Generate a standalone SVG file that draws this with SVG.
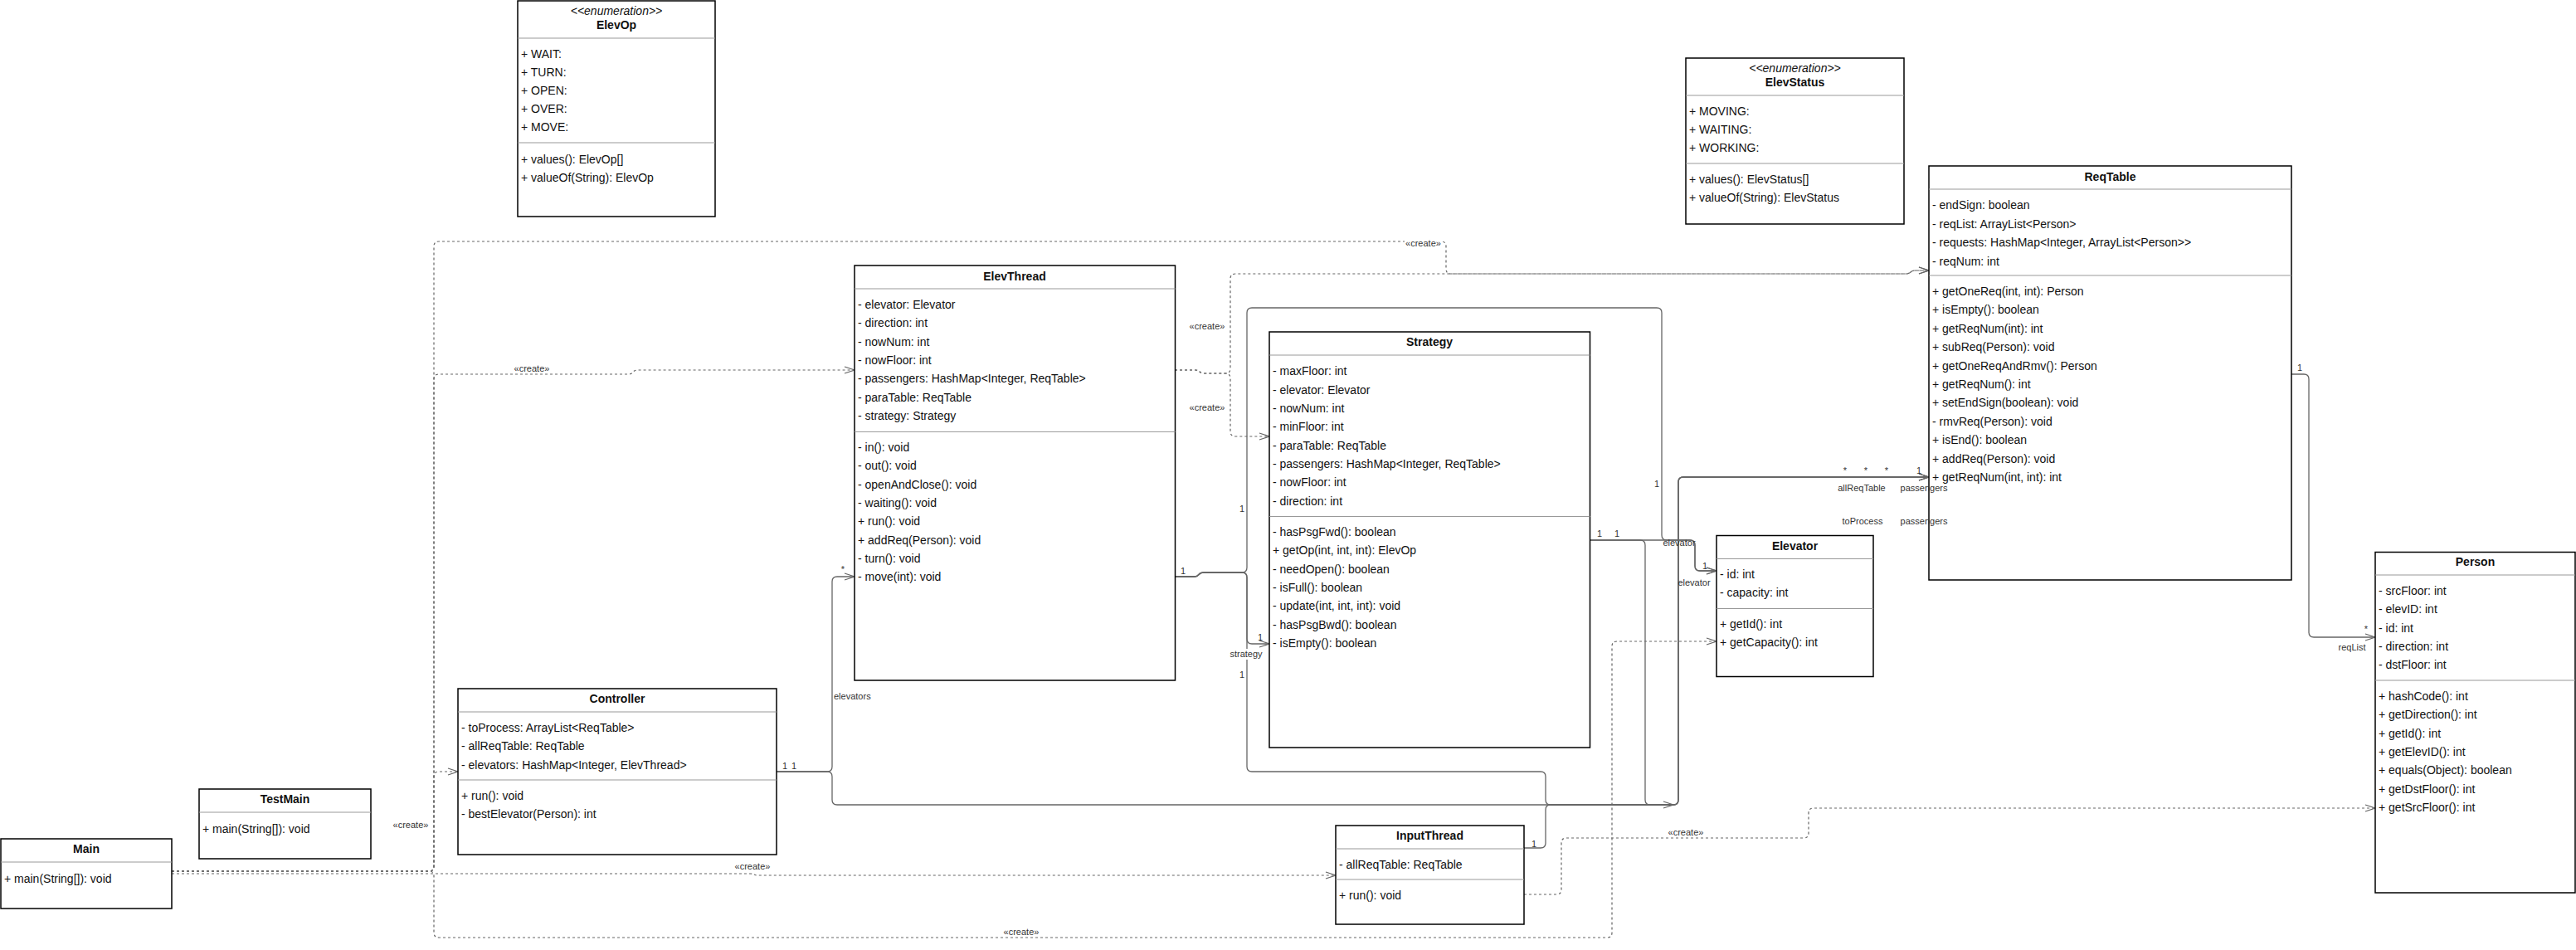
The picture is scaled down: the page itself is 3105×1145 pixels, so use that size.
<svg xmlns="http://www.w3.org/2000/svg" width="3105" height="1145" viewBox="0 0 3105 1145">
<style>
text{font-family:"Liberation Sans",Arial,Helvetica,sans-serif;font-size:14px;fill:#111}
.frame{fill:#fff;stroke:#000;stroke-width:1.5}
.dv{stroke:#999;stroke-width:1}
.t{font-weight:bold;text-anchor:middle}
.st{font-style:italic;text-anchor:middle}
.lbl{font-size:11px;fill:#333}
.m{text-anchor:middle}
.assoc{fill:none;stroke:#666;stroke-width:1.3}
.dep{fill:none;stroke:#666;stroke-width:1.2;stroke-dasharray:3 3}
</style>
<defs>
<marker id="open" markerUnits="userSpaceOnUse" markerWidth="16" markerHeight="12" refX="12" refY="4" orient="auto" overflow="visible"><path d="M0,0 L12,4 L0,8" fill="none" stroke="#666" stroke-width="1.3"/></marker>
</defs>
<rect width="3105" height="1145" fill="#fff"/>

<g id="connectors">
<g id="dependencies">
<path class="dep" marker-end="url(#open)" d="M207,1050 L517,1050 Q523,1050 523,1044 L523,297 Q523,291 529,291 L1737,291 Q1743,291 1743,297 L1743,324 Q1743,330 1749,330 L2298,330 Q2301,330 2303,328 Q2305,326 2309,326 L2325,326"/>
<path class="dep" marker-end="url(#open)" d="M207,1050 L517,1050 Q523,1050 523,1044 L523,936 Q523,930 529,930 L552,930"/>
<path class="dep" marker-end="url(#open)" d="M207,1050 L517,1050 Q523,1050 523,1044 L523,457 Q523,451 529,451 L758,451 Q761,451 763,448.5 Q765,446 769,446 L1030,446"/>
<path class="dep" marker-end="url(#open)" d="M207,1053 L904,1053 Q907,1053 909,1054 Q911,1055 914,1055 L1610,1055"/>
<path class="dep" marker-end="url(#open)" d="M207,1050 L517,1050 Q523,1050 523,1056 L523,1124 Q523,1130 529,1130 L1937,1130 Q1943,1130 1943,1124 L1943,779 Q1943,773 1949,773 L2069,773"/>
<path class="dep" marker-end="url(#open)" d="M1416,446 L1441,446 Q1444,446 1446,448 Q1448,450 1452,450 L1477,450 Q1483,450 1483,444 L1483,336 Q1483,330 1489,330 L2298,330 Q2301,330 2303,328 Q2305,326 2309,326 L2325,326"/>
<path class="dep" marker-end="url(#open)" d="M1416,446 L1441,446 Q1444,446 1446,448 Q1448,450 1452,450 L1477,450 Q1483,450 1483,456 L1483,520 Q1483,526 1489,526 L1530,526"/>
<path class="dep" marker-end="url(#open)" d="M1837,1078 L1876,1078 Q1882,1078 1882,1072 L1882,1016 Q1882,1010 1888,1010 L2174,1010 Q2180,1010 2180,1004 L2180,980 Q2180,974 2186,974 L2863,974"/>
</g>
<g id="associations">
<path class="assoc" marker-end="url(#open)" d="M936,930 L997,930 Q1003,930 1003,924 L1003,701 Q1003,695 1009,695 L1030,695"/>
<path class="assoc" marker-end="url(#open)" d="M936,930 L997,930 Q1003,930 1003,936 L1003,964 Q1003,970 1009,970 L2017,970 Q2023,970 2023,964 L2023,581 Q2023,575 2029,575 L2325,575"/>
<path class="assoc" marker-end="url(#open)" d="M1916,651 L1977,651 Q1983,651 1983,657 L1983,964 Q1983,970 1989,970 L2017,970 Q2023,970 2023,964 L2023,581 Q2023,575 2029,575 L2325,575"/>
<path class="assoc" marker-end="url(#open)" d="M1916,651 L2037,651 Q2043,651 2043,657 L2043,682 Q2043,688 2049,688 L2069,688"/>
<path class="assoc" marker-end="url(#open)" d="M1416,695 L1440,695 Q1443,695 1445,692.5 Q1447,690 1451,690 L1497,690 Q1503,690 1503,684 L1503,377 Q1503,371 1509,371 L1997,371 Q2003,371 2003,377 L2003,645 Q2003,651 2009,651 L2037,651 Q2043,651 2043,657 L2043,682 Q2043,688 2049,688 L2069,688"/>
<path class="assoc" marker-end="url(#open)" d="M1416,695 L1440,695 Q1443,695 1445,692.5 Q1447,690 1451,690 L1497,690 Q1503,690 1503,696 L1503,770 Q1503,776 1509,776 L1530,776"/>
<path class="assoc" marker-end="url(#open)" d="M1416,695 L1440,695 Q1443,695 1445,692.5 Q1447,690 1451,690 L1497,690 Q1503,690 1503,696 L1503,924 Q1503,930 1509,930 L1857,930 Q1863,930 1863,936 L1863,964 Q1863,970 1869,970 L2017,970 Q2023,970 2023,964 L2023,581 Q2023,575 2029,575 L2325,575"/>
<path class="assoc" marker-end="url(#open)" d="M1837,1022 L1857,1022 Q1863,1022 1863,1016 L1863,976 Q1863,970 1869,970 L2017,970"/>
<path class="assoc" marker-end="url(#open)" d="M2762,451 L2777,451 Q2783,451 2783,457 L2783,762 Q2783,768 2789,768 L2863,768"/>
</g>
</g>

<g id="ElevOp" transform="translate(624,1)">
<rect class="frame" x="0" y="0" width="238" height="260"/>
<line class="dv" x1="0" y1="45" x2="238" y2="45"/>
<line class="dv" x1="0" y1="171" x2="238" y2="171"/>
<text class="st" x="119" y="16.5">&lt;&lt;enumeration&gt;&gt;</text>
<text class="t" x="119" y="33.5">ElevOp</text>
<text x="4" y="69">+ WAIT:</text>
<text x="4" y="91">+ TURN:</text>
<text x="4" y="113">+ OPEN:</text>
<text x="4" y="135">+ OVER:</text>
<text x="4" y="157">+ MOVE:</text>
<text x="4" y="196">+ values(): ElevOp[]</text>
<text x="4" y="218">+ valueOf(String): ElevOp</text>
</g>

<g id="ElevStatus" transform="translate(2032,70)">
<rect class="frame" x="0" y="0" width="263" height="200"/>
<line class="dv" x1="0" y1="45" x2="263" y2="45"/>
<line class="dv" x1="0" y1="127" x2="263" y2="127"/>
<text class="st" x="131.5" y="17">&lt;&lt;enumeration&gt;&gt;</text>
<text class="t" x="131.5" y="34">ElevStatus</text>
<text x="4" y="69">+ MOVING:</text>
<text x="4" y="91">+ WAITING:</text>
<text x="4" y="113">+ WORKING:</text>
<text x="4" y="151">+ values(): ElevStatus[]</text>
<text x="4" y="173">+ valueOf(String): ElevStatus</text>
</g>

<g id="ReqTable" transform="translate(2325,200)">
<rect class="frame" x="0" y="0" width="437" height="499"/>
<line class="dv" x1="0" y1="28" x2="437" y2="28"/>
<line class="dv" x1="0" y1="132" x2="437" y2="132"/>
<text class="t" x="218.5" y="18">ReqTable</text>
<text x="4" y="52.4">- endSign: boolean</text>
<text x="4" y="74.8">- reqList: ArrayList&lt;Person&gt;</text>
<text x="4" y="97.2">- requests: HashMap&lt;Integer, ArrayList&lt;Person&gt;&gt;</text>
<text x="4" y="119.6">- reqNum: int</text>
<text x="4" y="156">+ getOneReq(int, int): Person</text>
<text x="4" y="178.4">+ isEmpty(): boolean</text>
<text x="4" y="200.8">+ getReqNum(int): int</text>
<text x="4" y="223.2">+ subReq(Person): void</text>
<text x="4" y="245.6">+ getOneReqAndRmv(): Person</text>
<text x="4" y="268">+ getReqNum(): int</text>
<text x="4" y="290.4">+ setEndSign(boolean): void</text>
<text x="4" y="312.8">- rmvReq(Person): void</text>
<text x="4" y="335.2">+ isEnd(): boolean</text>
<text x="4" y="357.6">+ addReq(Person): void</text>
<text x="4" y="380">+ getReqNum(int, int): int</text>
</g>

<g id="ElevThread" transform="translate(1030,320)">
<rect class="frame" x="0" y="0" width="386.5" height="500"/>
<line class="dv" x1="0" y1="28" x2="386.5" y2="28"/>
<line class="dv" x1="0" y1="200.4" x2="386.5" y2="200.4"/>
<text class="t" x="193" y="18">ElevThread</text>
<text x="4" y="52">- elevator: Elevator</text>
<text x="4" y="74.35">- direction: int</text>
<text x="4" y="96.7">- nowNum: int</text>
<text x="4" y="119.05">- nowFloor: int</text>
<text x="4" y="141.4">- passengers: HashMap&lt;Integer, ReqTable&gt;</text>
<text x="4" y="163.75">- paraTable: ReqTable</text>
<text x="4" y="186.1">- strategy: Strategy</text>
<text x="4" y="224">- in(): void</text>
<text x="4" y="246.35">- out(): void</text>
<text x="4" y="268.7">- openAndClose(): void</text>
<text x="4" y="291.05">- waiting(): void</text>
<text x="4" y="313.4">+ run(): void</text>
<text x="4" y="335.75">+ addReq(Person): void</text>
<text x="4" y="358.1">- turn(): void</text>
<text x="4" y="380.45">- move(int): void</text>
</g>

<g id="Strategy" transform="translate(1530,400)">
<rect class="frame" x="0" y="0" width="386.5" height="501"/>
<line class="dv" x1="0" y1="28" x2="386.5" y2="28"/>
<line class="dv" x1="0" y1="222.5" x2="386.5" y2="222.5"/>
<text class="t" x="193" y="17">Strategy</text>
<text x="4" y="52.3">- maxFloor: int</text>
<text x="4" y="74.65">- elevator: Elevator</text>
<text x="4" y="97">- nowNum: int</text>
<text x="4" y="119.35">- minFloor: int</text>
<text x="4" y="141.7">- paraTable: ReqTable</text>
<text x="4" y="164.05">- passengers: HashMap&lt;Integer, ReqTable&gt;</text>
<text x="4" y="186.4">- nowFloor: int</text>
<text x="4" y="208.75">- direction: int</text>
<text x="4" y="246">- hasPsgFwd(): boolean</text>
<text x="4" y="268.35">+ getOp(int, int, int): ElevOp</text>
<text x="4" y="290.7">- needOpen(): boolean</text>
<text x="4" y="313.05">- isFull(): boolean</text>
<text x="4" y="335.4">- update(int, int, int): void</text>
<text x="4" y="357.75">- hasPsgBwd(): boolean</text>
<text x="4" y="380.1">- isEmpty(): boolean</text>
</g>

<g id="Controller" transform="translate(552,830)">
<rect class="frame" x="0" y="0" width="384" height="200"/>
<line class="dv" x1="0" y1="28" x2="384" y2="28"/>
<line class="dv" x1="0" y1="110" x2="384" y2="110"/>
<text class="t" x="192" y="17">Controller</text>
<text x="4" y="52">- toProcess: ArrayList&lt;ReqTable&gt;</text>
<text x="4" y="74.4">- allReqTable: ReqTable</text>
<text x="4" y="96.7">- elevators: HashMap&lt;Integer, ElevThread&gt;</text>
<text x="4" y="134">+ run(): void</text>
<text x="4" y="156">- bestElevator(Person): int</text>
</g>

<g id="TestMain" transform="translate(240,951)">
<rect class="frame" x="0" y="0" width="207" height="84"/>
<line class="dv" x1="0" y1="28" x2="207" y2="28"/>
<text class="t" x="103.5" y="17">TestMain</text>
<text x="4" y="53">+ main(String[]): void</text>
</g>

<g id="Main" transform="translate(1,1011)">
<rect class="frame" x="0" y="0" width="206" height="84"/>
<line class="dv" x1="0" y1="28" x2="206" y2="28"/>
<text class="t" x="103" y="17">Main</text>
<text x="4" y="53">+ main(String[]): void</text>
</g>

<g id="InputThread" transform="translate(1610,995)">
<rect class="frame" x="0" y="0" width="227" height="119"/>
<line class="dv" x1="0" y1="28" x2="227" y2="28"/>
<line class="dv" x1="0" y1="65" x2="227" y2="65"/>
<text class="t" x="113.5" y="17">InputThread</text>
<text x="4" y="52">- allReqTable: ReqTable</text>
<text x="4" y="89">+ run(): void</text>
</g>

<g id="Elevator" transform="translate(2069,645.5)">
<rect class="frame" x="0" y="0" width="189" height="170"/>
<line class="dv" x1="0" y1="28" x2="189" y2="28"/>
<line class="dv" x1="0" y1="88" x2="189" y2="88"/>
<text class="t" x="94.5" y="17">Elevator</text>
<text x="4" y="51.5">- id: int</text>
<text x="4" y="73.5">- capacity: int</text>
<text x="4" y="111.5">+ getId(): int</text>
<text x="4" y="133.5">+ getCapacity(): int</text>
</g>

<g id="Person" transform="translate(2863,665.5)">
<rect class="frame" x="0" y="0" width="241" height="410.5"/>
<line class="dv" x1="0" y1="27.5" x2="241" y2="27.5"/>
<line class="dv" x1="0" y1="154.5" x2="241" y2="154.5"/>
<text class="t" x="120.5" y="16.5">Person</text>
<text x="4" y="51.5">- srcFloor: int</text>
<text x="4" y="73.85">- elevID: int</text>
<text x="4" y="96.2">- id: int</text>
<text x="4" y="118.55">- direction: int</text>
<text x="4" y="140.9">- dstFloor: int</text>
<text x="4" y="178.5">+ hashCode(): int</text>
<text x="4" y="200.85">+ getDirection(): int</text>
<text x="4" y="223.2">+ getId(): int</text>
<text x="4" y="245.55">+ getElevID(): int</text>
<text x="4" y="267.9">+ equals(Object): boolean</text>
<text x="4" y="290.25">+ getDstFloor(): int</text>
<text x="4" y="312.6">+ getSrcFloor(): int</text>
</g>

<g id="connector-labels">
<rect x="1693" y="285" width="45" height="15" fill="#fff"/>
<text class="lbl m" x="1715.5" y="297">«create»</text>
<text class="lbl m" x="641" y="448">«create»</text>
<text class="lbl m" x="1455" y="397">«create»</text>
<text class="lbl m" x="1455" y="495">«create»</text>
<text class="lbl m" x="495" y="998">«create»</text>
<text class="lbl m" x="907" y="1048">«create»</text>
<text class="lbl m" x="1231" y="1127">«create»</text>
<text class="lbl m" x="2032" y="1007">«create»</text>
<text class="lbl m" x="946" y="927">1</text>
<text class="lbl m" x="957" y="927">1</text>
<text class="lbl m" x="1016" y="690">*</text>
<text class="lbl" x="1005" y="843">elevators</text>
<text class="lbl m" x="1426" y="692">1</text>
<text class="lbl m" x="1497" y="617">1</text>
<text class="lbl m" x="1519" y="772">1</text>
<rect x="1484" y="782" width="36" height="13" fill="#fff"/>
<text class="lbl m" x="1502" y="792">strategy</text>
<text class="lbl m" x="1497" y="817">1</text>
<text class="lbl m" x="1928" y="647">1</text>
<text class="lbl m" x="1949" y="647">1</text>
<text class="lbl m" x="1997" y="587">1</text>
<text class="lbl m" x="2024" y="658">elevator</text>
<text class="lbl m" x="2055" y="686">1</text>
<text class="lbl m" x="2042" y="706">elevator</text>
<text class="lbl m" x="2224" y="571">*</text>
<text class="lbl m" x="2249" y="571">*</text>
<text class="lbl m" x="2274" y="571">*</text>
<text class="lbl m" x="2313" y="571">1</text>
<text class="lbl m" x="2244" y="592">allReqTable</text>
<text class="lbl m" x="2319" y="592">passengers</text>
<text class="lbl m" x="2245" y="632">toProcess</text>
<text class="lbl m" x="2319" y="632">passengers</text>
<text class="lbl m" x="1849" y="1021">1</text>
<text class="lbl m" x="2772" y="447">1</text>
<text class="lbl m" x="2852" y="762">*</text>
<text class="lbl m" x="2835" y="784">reqList</text>
</g>
</svg>
